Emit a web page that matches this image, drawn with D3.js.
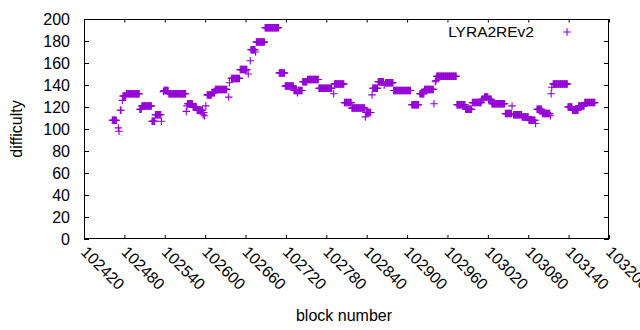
<!DOCTYPE html>
<html>
<head>
<meta charset="utf-8">
<script src="https://cdn.jsdelivr.net/npm/d3@7/dist/d3.min.js"></script>
<style>
  html, body { margin: 0; padding: 0; background: #fff; }
  svg { display: block; }
  text { font-family: "Liberation Sans", Arial, sans-serif; fill: #000; }
</style>
</head>
<body>
<svg id="chart" width="640" height="330"></svg>
<script>
// ---- data: runs of blocks sharing the same difficulty (first block, last block, difficulty)
const runFirst = [102462,102471,102472,102474,102477,102478,102483,102503,102506,102521,102526,102535,102538,102539,102546,102572,102573,102574,102582,102588,102597,102598,102599,102601,102603,102610,102615,102635,102636,102639,102652,102664,102667,102668,102675,102676,102689,102710,102719,102732,102737,102738,102745,102752,102769,102791,102792,102807,102818,102838,102839,102848,102849,102857,102866,102868,102880,102907,102919,102926,102940,102942,102943,102944,102974,102987,102997,103011,103015,103021,103026,103046,103056,103058,103071,103081,103091,103093,103101,103113,103114,103115,103117,103139,103146,103155,103164];
const runLast  = [102468,102471,102472,102475,102477,102482,102502,102505,102520,102525,102534,102535,102538,102545,102571,102572,102573,102581,102587,102596,102597,102598,102599,102601,102609,102614,102632,102635,102636,102651,102662,102664,102667,102674,102675,102688,102709,102718,102731,102736,102737,102744,102751,102768,102788,102791,102806,102817,102837,102838,102846,102848,102856,102865,102866,102879,102905,102917,102925,102939,102940,102942,102943,102973,102986,102996,103010,103014,103020,103025,103045,103055,103056,103070,103080,103090,103091,103100,103112,103113,103114,103115,103138,103145,103154,103163,103179];
const runDifficulty = [108,101,98,117,126,130,132,118,121,107,113,107,134,135,132,116,121,123,120,117,113,115,112,121,131,133,136,129,142,146,154,150,162,172,170,179,192,151,139,135,133,135,143,145,137,132,141,124,119,111,115,131,137,143,140,142,135,122,132,136,123,143,144,148,122,118,124,127,129,127,123,114,121,113,111,108,105,118,114,112,132,138,141,120,117,121,124];

const seriesName = "LYRA2REv2";
const xTicks = [102420,102480,102540,102600,102660,102720,102780,102840,102900,102960,103020,103080,103140,103200];
const yTicks = [0,20,40,60,80,100,120,140,160,180,200];
const xLabel = "block number";
const yLabel = "difficulty";

// expand runs into one point per block
const points = [];
runFirst.forEach((f, i) => {
  for (let b = f; b <= runLast[i]; b++) points.push({block: b, difficulty: runDifficulty[i]});
});

const color = "#9400d3";
const svg = d3.select("#chart");
const L = 84, R = 609, T = 19, B = 239;

const x = d3.scaleLinear().domain([102420, 103200]).range([L, R]);
const y = d3.scaleLinear().domain([0, 200]).range([B, T]);

// axes (inward ticks, mirrored)
const gx = svg.append("g").attr("transform", `translate(0,${B})`)
  .call(d3.axisBottom(x).tickValues(xTicks).tickSizeInner(-4).tickSizeOuter(0).tickFormat(""));
const gxTop = svg.append("g").attr("transform", `translate(0,${T})`)
  .call(d3.axisTop(x).tickValues(xTicks).tickSizeInner(-3.5).tickSizeOuter(0).tickFormat(""));
const gy = svg.append("g").attr("transform", `translate(${L},0)`)
  .call(d3.axisLeft(y).tickValues(yTicks).tickSizeInner(-5).tickSizeOuter(0).tickFormat(""));
const gyR = svg.append("g").attr("transform", `translate(${R},0)`)
  .call(d3.axisRight(y).tickValues(yTicks).tickSizeInner(-5).tickSizeOuter(0).tickFormat(""));
[gx, gxTop, gy, gyR].forEach(g => {
  g.select(".domain").remove();
  g.selectAll("line").attr("stroke", "#000").attr("stroke-width", 1);
});

// border
svg.append("rect").attr("x", L + 0.5).attr("y", T + 0.5)
  .attr("width", R - L - 1).attr("height", B - T - 1)
  .attr("fill", "none").attr("stroke", "#000").attr("stroke-width", 1);

// y tick labels
svg.append("g").selectAll("text").data(yTicks).join("text")
  .attr("x", 70).attr("y", d => y(d))
  .attr("dy", "0.36em")
  .attr("text-anchor", "end")
  .attr("font-size", 16)
  .text(d => d);

// x tick labels rotated by 45 degrees
svg.append("g").selectAll("text").data(xTicks).join("text")
  .attr("transform", d => `translate(${x(d) - 4},${B + 14}) rotate(45)`)
  .attr("text-anchor", "start")
  .attr("font-size", 16)
  .text(d => d);

// axis titles
svg.append("text").attr("x", 344).attr("y", 321).attr("text-anchor", "middle")
  .attr("font-size", 16).text(xLabel);
svg.append("text").attr("transform", "translate(22,129) rotate(-90)")
  .attr("text-anchor", "middle").attr("font-size", 16).text(yLabel);

// points ("+" markers)
const s = 3.75;
const plus = `M${-s},0H${s}M0,${-s}V${s}`;
svg.append("g").selectAll("path").data(points).join("path")
  .attr("transform", d => `translate(${x(d.block)},${y(d.difficulty)})`)
  .attr("d", plus)
  .attr("stroke", color).attr("stroke-width", 1.1).attr("fill", "none");

// legend
svg.append("text").attr("x", 534).attr("y", 37).attr("text-anchor", "end")
  .attr("font-size", 15.5).text(seriesName);
svg.append("path").attr("transform", "translate(567,32)").attr("d", plus)
  .attr("stroke", color).attr("stroke-width", 1.1).attr("fill", "none");
</script>
</body>
</html>
